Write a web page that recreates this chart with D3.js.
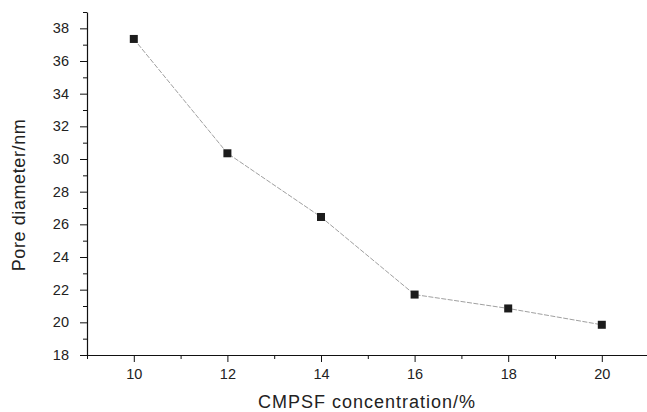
<!DOCTYPE html>
<html>
<head>
<meta charset="utf-8">
<script src="https://cdn.jsdelivr.net/npm/d3@7"></script>
<style>
  html, body { margin: 0; padding: 0; background: #fff; }
  svg { display: block; }
  text { font-family: "Liberation Sans", Arial, Helvetica, sans-serif; fill: #222; }
</style>
</head>
<body>
<svg id="chart" width="647" height="412"></svg>
<script>
// CMPSF concentration (%) vs. membrane pore diameter (nm)
const concentrations = [10, 12, 14, 16, 18, 20];
const poreDiameters = [37.35, 30.35, 26.45, 21.7, 20.85, 19.85];
const xTicks = [10, 12, 14, 16, 18, 20];
const yTicks = [18, 20, 22, 24, 26, 28, 30, 32, 34, 36, 38];
const xMinorTicks = [9, 11, 13, 15, 17, 19, 21];
const yMinorTicks = [19, 21, 23, 25, 27, 29, 31, 33, 35, 37, 39];

const svg = d3.select("#chart");
const plot = { left: 87, bottom: 355, top: 12, right: 648.6 };

const x = d3.scaleLinear().domain([9, 21]).range([plot.left, plot.right]);
const y = d3.scaleLinear().domain([18, 39]).range([plot.bottom, plot.top]);

// minor ticks (drawn first, under the major axes)
svg.append("g")
  .attr("transform", `translate(0,${plot.bottom})`)
  .call(d3.axisBottom(x).tickValues(xMinorTicks).tickSize(4).tickFormat(""))
  .call(g => g.select(".domain").remove())
  .call(g => g.selectAll("line").attr("stroke", "#111").attr("stroke-width", 1));

svg.append("g")
  .attr("transform", `translate(${plot.left},0)`)
  .call(d3.axisLeft(y).tickValues(yMinorTicks).tickSize(4).tickFormat(""))
  .call(g => g.select(".domain").remove())
  .call(g => g.selectAll("line").attr("stroke", "#111").attr("stroke-width", 1));

// major axes
const xAxis = svg.append("g")
  .attr("transform", `translate(0,${plot.bottom})`)
  .call(d3.axisBottom(x).tickValues(xTicks).tickSize(7).tickPadding(7).tickSizeOuter(0));
const yAxis = svg.append("g")
  .attr("transform", `translate(${plot.left},0)`)
  .call(d3.axisLeft(y).tickValues(yTicks).tickSize(7).tickPadding(11).tickSizeOuter(0));

[xAxis, yAxis].forEach(g => {
  g.select(".domain").attr("stroke", "#111").attr("stroke-width", 1.2);
  g.selectAll(".tick line").attr("stroke", "#111").attr("stroke-width", 1);
  g.selectAll(".tick text")
    .style("font-family", '"Liberation Sans", Arial, sans-serif')
    .style("font-size", "14.5px")
    .attr("fill", "#222");
});

// connecting line
const pts = concentrations.map((c, i) => [c, poreDiameters[i]]);
svg.append("path")
  .datum(pts)
  .attr("fill", "none")
  .attr("stroke", "#a0a0a0")
  .attr("stroke-width", 1)
  .attr("stroke-dasharray", "5,1.5")
  .attr("d", d3.line().x(d => x(d[0])).y(d => y(d[1])));

// square markers
const ms = 8;
svg.selectAll("rect.pt")
  .data(pts)
  .join("rect")
  .attr("class", "pt")
  .attr("x", d => x(d[0]) - ms / 2)
  .attr("y", d => y(d[1]) - ms / 2)
  .attr("width", ms)
  .attr("height", ms)
  .attr("fill", "#1c1c1c");

// axis titles
svg.append("text")
  .attr("x", (plot.left + 647) / 2)
  .attr("y", 408)
  .attr("text-anchor", "middle")
  .style("font-size", "18px")
  .style("letter-spacing", "1px")
  .text("CMPSF concentration/%");

svg.append("text")
  .attr("transform", `translate(25,195) rotate(-90)`)
  .attr("text-anchor", "middle")
  .style("font-size", "18px")
  .style("letter-spacing", "0.6px")
  .text("Pore diameter/nm");
</script>
</body>
</html>
